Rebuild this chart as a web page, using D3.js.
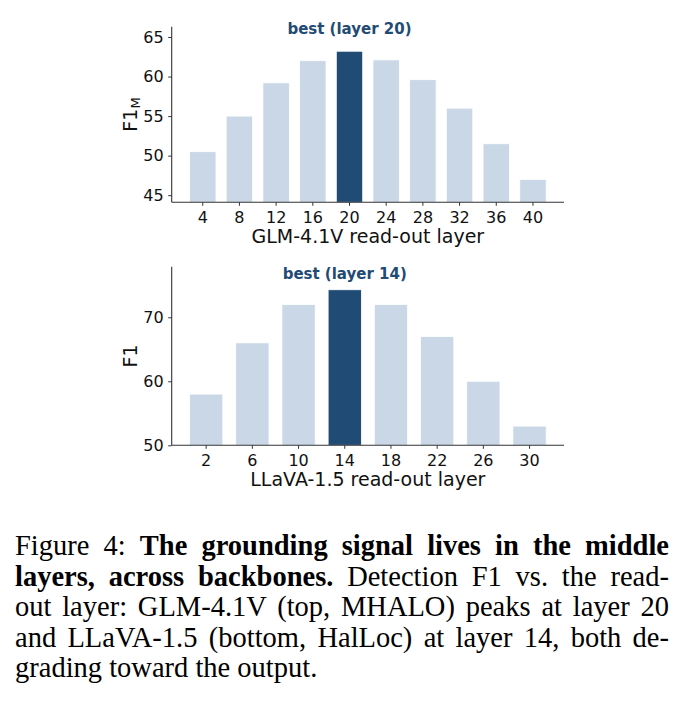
<!DOCTYPE html>
<html>
<head>
<meta charset="utf-8">
<script src="https://cdn.jsdelivr.net/npm/d3@7"></script>
<style>
  body { margin: 0; background: #fff; }
  svg { display: block; }
</style>
</head>
<body>
<script>
// data
var glmLayers = [4, 8, 12, 16, 20, 24, 28, 32, 36, 40];
var glmF1 = [50.5, 55.0, 59.2, 62.0, 63.2, 62.1, 59.6, 56.0, 51.5, 47.0];
var glmTicks = [45, 50, 55, 60, 65];
var glmBest = 20;

var llavaLayers = [2, 6, 10, 14, 18, 22, 26, 30];
var llavaF1 = [58, 66, 72, 74.3, 72, 67, 60, 53];
var llavaTicks = [50, 60, 70];
var llavaBest = 14;

var captionLines = [
  [["Figure 4: ", false], ["The grounding signal lives in the middle", true]],
  [["layers, across backbones.", true], [" Detection F1 vs. the read-", false]],
  [["out layer: GLM-4.1V (top, MHALO) peaks at layer 20", false]],
  [["and LLaVA-1.5 (bottom, HalLoc) at layer 14, both de-", false]],
  [["grading toward the output.", false]]
];

var W = 691, H = 720;
var dark = '#1f4b74', light = '#c9d7e6';
var sans = 'DejaVu Sans, sans-serif';

var svg = d3.select('body').append('svg')
    .attr('width', W).attr('height', H);

svg.append('rect').attr('width', W).attr('height', H).attr('fill', '#fff');

//panels: pixel frame for each axes
var panels = [
  {layers: glmLayers, vals: glmF1, ticks: glmTicks, best: glmBest,
   top: 26.7, bottom: 202.3, ydom: [44.1, 66.3], titleY: 34,
   xlabel: 'GLM-4.1V read-out layer', ysub: 'M'},
  {layers: llavaLayers, vals: llavaF1, ticks: llavaTicks, best: llavaBest,
   top: 266.7, bottom: 445.3, ydom: [50, 77.9], titleY: 279,
   xlabel: 'LLaVA-1.5 read-out layer', ysub: null}
];

var left = 171.7, right = 564;
var barFrac = 0.72;

panels.forEach(function(p) {
  var n = p.layers.length;
  // matplotlib style 5% margins around the bars
  var outer = 0.05 * (n - 1 + barFrac) + (1 - barFrac) / 2;

  var x = d3.scaleBand()
      .domain(p.layers)
      .range([left, right])
      .paddingInner(1 - barFrac)
      .paddingOuter(outer - (1 - barFrac) / 2);

  var y = d3.scaleLinear()
      .domain(p.ydom)
      .range([p.bottom, p.top]);

  var g = svg.append('g');

  g.selectAll('rect.bar')
    .data(p.layers)
    .enter().append('rect')
    .attr('class', 'bar')
    .attr('x', function(d) { return x(d); })
    .attr('width', x.bandwidth())
    .attr('y', function(d, i) { return y(p.vals[i]); })
    .attr('height', function(d, i) { return p.bottom - y(p.vals[i]); })
    .attr('fill', function(d) { return d === p.best ? dark : light; })
    .attr('stroke', '#fff')
    .attr('stroke-width', 0.8);

  // axes
  var xAxis = d3.axisBottom(x).tickSize(3.5).tickPadding(5.5);
  var gx = g.append('g')
      .attr('transform', 'translate(0,' + p.bottom + ')')
      .call(xAxis);
  gx.select('.domain').attr('d', 'M' + left + ',0H' + right);

  var yAxis = d3.axisLeft(y).tickValues(p.ticks).tickSize(3.5).tickPadding(4.5);
  var gy = g.append('g')
      .attr('transform', 'translate(' + left + ',0)')
      .call(yAxis);
  gy.select('.domain').attr('d', 'M0,' + p.top + 'V' + p.bottom);

  [gx, gy].forEach(function(a) {
    a.selectAll('.domain').attr('stroke', '#333').attr('stroke-width', 1.1);
    a.selectAll('.tick line').attr('stroke', '#333').attr('stroke-width', 1);
    a.selectAll('.tick text')
      .attr('font-family', sans).attr('font-size', 16).attr('fill', '#111');
  });

  g.append('text')
    .attr('x', (left + right) / 2)
    .attr('y', p.bottom + 41)
    .attr('text-anchor', 'middle')
    .attr('font-family', sans).attr('font-size', 19).attr('fill', '#111')
    .text(p.xlabel);

  var yl = g.append('text')
    .attr('transform', 'translate(' + 136.5 + ',' + ((p.top + p.bottom) / 2) + ') rotate(-90)')
    .attr('text-anchor', 'middle')
    .attr('font-family', sans).attr('font-size', 19).attr('fill', '#111');
  yl.append('tspan').text('F1');
  if (p.ysub) {
    yl.append('tspan').attr('font-size', 13).attr('dy', 3).text(p.ysub);
  }

  g.append('text')
    .attr('x', x(p.best) + x.bandwidth() / 2)
    .attr('y', p.titleY)
    .attr('text-anchor', 'middle')
    .attr('font-family', sans).attr('font-size', 15).attr('font-weight', 'bold')
    .attr('fill', dark)
    .text('best (layer ' + p.best + ')');
});

// caption, justified line by line (glyphs a bit taller than wide, like the scan)
var capLeft = 15, capRight = 669, capSize = 28.5;
var baselines = [555, 585.5, 616, 646.5, 677];

captionLines.forEach(function(line, li) {
  var t = svg.append('text')
    .attr('transform', 'translate(' + capLeft + ',' + baselines[li] + ') scale(1,1.06)')
    .attr('font-family', "'Liberation Serif', 'Times New Roman', serif")
    .attr('font-size', capSize)
    .attr('fill', '#000')
    .style('white-space', 'pre');
  line.forEach(function(seg) {
    t.append('tspan').attr('font-weight', seg[1] ? 'bold' : 'normal').text(seg[0]);
  });
  if (li < captionLines.length - 1) {
    var natural = t.node().getComputedTextLength();
    var full = line.map(function(s) { return s[0]; }).join('');
    var spaces = (full.match(/ /g) || []).length;
    var extra = (capRight - capLeft - natural) / spaces;
    t.attr('word-spacing', extra);
  }
});
</script>
</body>
</html>
